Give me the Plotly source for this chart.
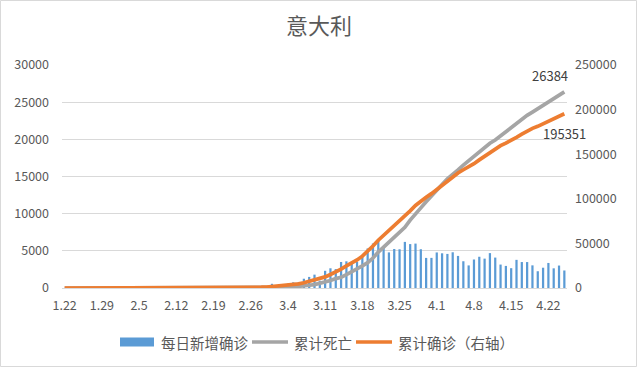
import plotly.graph_objects as go

# ---- categories: dates 1.22 .. 4.25 ----
months = [(1, 22, 31), (2, 1, 29), (3, 1, 31), (4, 1, 25)]
dates = [f"{m}.{d}" for m, s, e in months for d in range(s, e + 1)]

tick_labels = ["1.22", "1.29", "2.5", "2.12", "2.19", "2.26", "3.4",
               "3.11", "3.18", "3.25", "4.1", "4.8", "4.15", "4.22"]

# ---- series ----
daily_new = (
    [0] * 9 + [2] + [0] * 6 + [1] + [0] * 13 +                 # 1.22 - 2.20
    [17, 59, 71, 79, 93, 78, 250, 238, 240] +                  # 2.21 - 2.29
    [566, 342, 466, 587, 769, 778, 1247, 1492, 1797, 977,
     2313, 2651, 2547, 3497, 3590, 3233, 3526, 4207, 5322, 5986,
     6557, 5560, 4789, 5249, 5210, 6203, 5909, 5974, 5217, 4050,
     4053] +                                                   # 3.1 - 3.31
    [4782, 4668, 4585, 4805, 4316, 3599, 3039, 3836, 4204, 3951,
     4694, 4092, 3153, 2972, 2667, 3786, 3493, 3491, 3047, 2256,
     2729, 3370, 2646, 3021, 2357]                             # 4.1 - 4.25
)

cum_deaths = (
    [0] * 30 +
    [1, 2, 3, 7, 10, 12, 17, 21, 29] +
    [34, 52, 79, 107, 148, 197, 233, 366, 463, 631,
     827, 1016, 1266, 1441, 1809, 2158, 2503, 2978, 3405, 4032,
     4825, 5476, 6077, 6820, 7503, 8165, 9134, 10023, 10779, 11591,
     12428] +
    [13155, 13915, 14681, 15362, 15887, 16523, 17127, 17669, 18279, 18849,
     19468, 19899, 20465, 21067, 21645, 22170, 22745, 23227, 23660, 24114,
     24648, 25085, 25549, 25969, 26384]
)

cum_confirmed = (
    [0] * 9 + [2] * 7 + [3] * 14 +
    [20, 79, 150, 229, 322, 400, 650, 888, 1128] +
    [1694, 2036, 2502, 3089, 3858, 4636, 5883, 7375, 9172, 10149,
     12462, 15113, 17660, 21157, 24747, 27980, 31506, 35713, 41035, 47021,
     53578, 59138, 63927, 69176, 74386, 80589, 86498, 92472, 97689, 101739,
     105792] +
    [110574, 115242, 119827, 124632, 128948, 132547, 135586, 139422, 143626, 147577,
     152271, 156363, 159516, 162488, 165155, 168941, 172434, 175925, 178972, 181228,
     183957, 187327, 189973, 192994, 195351]
)

names = ["每日新增确诊", "累计死亡", "累计确诊（右轴）"]
colors = ["#5B9BD5", "#A5A5A5", "#ED7D31"]
title_text = "意大利"

FONT = "Noto Sans CJK SC, Noto Sans, sans-serif"
TXT = "#595959"

W, H = 638, 368
ML, MR, MT, MB = 62, 71, 65, 80
PW, PH = W - ML - MR, H - MT - MB


def px(x):
    return (x - ML) / PW


def py(y):
    return 1 - (y - MT) / PH


xi = list(range(len(dates)))
tick_idx = [dates.index(t) for t in tick_labels]
last = len(dates) - 1

fig = go.Figure()
fig.add_trace(go.Bar(x=xi, y=daily_new, name=names[0], customdata=dates,
                     marker=dict(color=colors[0], line_width=0), width=0.42,
                     yaxis="y", showlegend=False))
fig.add_trace(go.Scatter(x=xi, y=cum_deaths, name=names[1], mode="lines",
                         line=dict(color=colors[1], width=3.7),
                         yaxis="y", showlegend=False))
fig.add_trace(go.Scatter(x=xi, y=cum_confirmed, name=names[2], mode="lines",
                         line=dict(color=colors[2], width=3.7),
                         yaxis="y2", showlegend=False))

annotations = [
    dict(x=last, y=cum_deaths[-1], xref="x", yref="y",
         text=str(cum_deaths[-1]), showarrow=False, xshift=-14, yshift=16,
         font=dict(family=FONT, size=13, color="#404040")),
    dict(x=last, y=cum_confirmed[-1], xref="x", yref="y2",
         text=str(cum_confirmed[-1]), showarrow=False, xshift=0, yshift=-20,
         font=dict(family=FONT, size=13, color="#404040")),
]

# manual legend
shapes = [
    dict(type="rect", xref="paper", yref="paper",
         x0=px(120), x1=px(154), y0=py(346.5), y1=py(337.5),
         fillcolor=colors[0], line_width=0),
    dict(type="line", xref="paper", yref="paper",
         x0=px(252), x1=px(288), y0=py(342), y1=py(342),
         line=dict(color=colors[1], width=3.5)),
    dict(type="line", xref="paper", yref="paper",
         x0=px(356), x1=px(392), y0=py(342), y1=py(342),
         line=dict(color=colors[2], width=3.5)),
    # outer border
    dict(type="rect", xref="paper", yref="paper",
         x0=px(0.5), x1=px(W - 1.5), y0=py(0.5), y1=py(H - 1.5),
         line=dict(color="#D9D9D9", width=1), fillcolor="rgba(0,0,0,0)",
         layer="below"),
]
for txt, x0 in [(names[0], 159), (names[1], 292), (names[2], 396)]:
    annotations.append(dict(x=px(x0), y=py(342), xref="paper", yref="paper",
                            text=txt, showarrow=False, xanchor="left",
                            yanchor="middle",
                            font=dict(family=FONT, size=14.5, color=TXT)))

fig.update_layout(
    width=W, height=H,
    margin=dict(l=ML, r=MR, t=MT, b=MB),
    paper_bgcolor="white", plot_bgcolor="white",
    title=dict(text=title_text, x=0.5, xref="container", xanchor="center",
               y=1 - 26 / H, yanchor="middle",
               font=dict(family=FONT, size=22, color=TXT)),
    font=dict(family=FONT, size=12.5, color=TXT),
    showlegend=False,
    xaxis=dict(range=[-0.5, last + 0.5], tickmode="array", tickvals=tick_idx,
               ticktext=tick_labels, showgrid=False, showline=True,
               linecolor="#D9D9D9", linewidth=1, ticks="",
               tickfont=dict(family=FONT, size=12.5, color=TXT),
               ticklabelstandoff=6, zeroline=False),
    yaxis=dict(range=[0, 30000], dtick=5000, tickformat="d",
               showgrid=True, gridcolor="#D9D9D9", gridwidth=1,
               zeroline=False, showline=False, ticks="",
               ticklabelstandoff=12,
               tickfont=dict(family=FONT, size=12.5, color=TXT)),
    yaxis2=dict(range=[0, 250000], dtick=50000, tickformat="d",
                overlaying="y", side="right", showgrid=False,
                zeroline=False, showline=False, ticks="",
                ticklabelstandoff=7,
                tickfont=dict(family=FONT, size=12.5, color=TXT)),
    annotations=annotations,
    shapes=shapes,
)

fig.write_html("out.html",
               config={"displayModeBar": False},
               post_script="document.body.style.margin='0';"
                           "document.body.style.overflow='hidden';")
